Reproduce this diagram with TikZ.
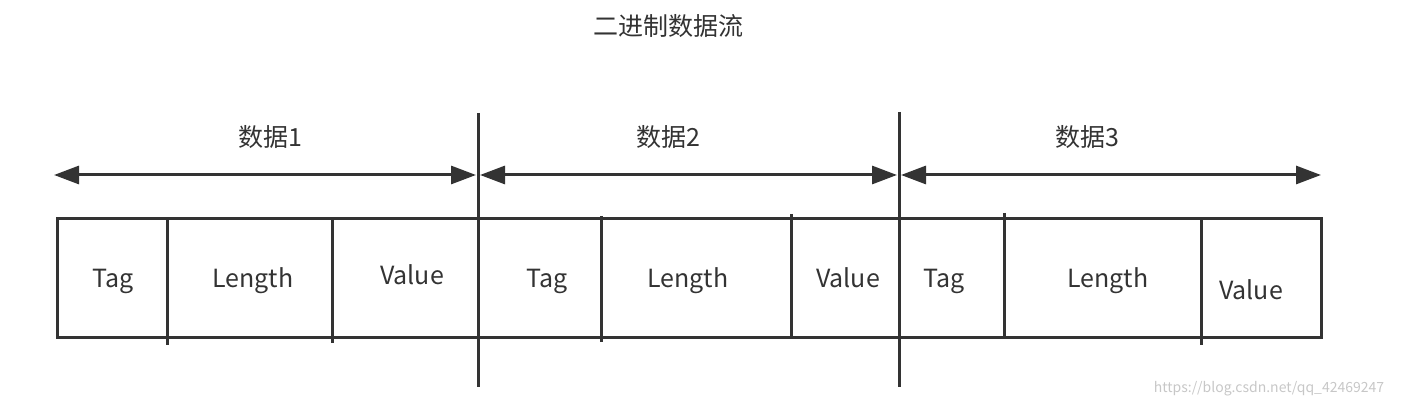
\documentclass[tikz,border=0pt]{standalone}
\usepackage{fontspec}
\setmainfont{Noto Sans CJK SC}
\usetikzlibrary{arrows.meta}
\definecolor{ink}{HTML}{333333}
\tikzset{
  cell/.style={text=ink,inner sep=0pt,font=\fontsize{12.5}{15}\selectfont},
  field/.style={cell,anchor=base},
  rule/.style={draw=ink,line width=1.5pt},
  span/.style={rule,{Triangle[length=12.5pt,width=9pt]}-{Triangle[length=12.5pt,width=9pt]}}
}

\begin{document}
\begin{tikzpicture}[x=0.5pt,y=-0.5pt]
	\useasboundingbox (0,0) rectangle (1414,410);
	\node[cell] (title) at (668,26) {二进制数据流};
	% outer box and the two long separators
	\coordinate (boxnw) at (57,219);
	\coordinate (boxse) at (1321,338);
	\draw[rule] (boxnw) rectangle (boxse);
	\coordinate (sep1t) at (478,113);
	\coordinate (sep1b) at (478,387);
	\coordinate (sep2t) at (899,112);
	\coordinate (sep2b) at (899,387);
	\draw[rule] (sep1t) -- (sep1b);
	\draw[rule] (sep2t) -- (sep2b);
	% field dividers
	\foreach \x/\ya/\yb in {167/219/345, 332/219/343, 601/216/342, 791/214/339, 1004/213/338, 1201/219/345}
		\draw[rule] (\x,\ya) -- (\x,\yb);
	% spans
	\coordinate (a1) at (54,175);
	\coordinate (b1) at (476,175);
	\coordinate (a2) at (480,175);
	\coordinate (b2) at (897,175);
	\coordinate (a3) at (901,175);
	\coordinate (b3) at (1321,175);
	\draw[span] (a1) -- (b1);
	\draw[span] (a2) -- (b2);
	\draw[span] (a3) -- (b3);
	\node[cell] (grp1) at (270,137) {数据1};
	\node[cell] (grp2) at (668,137) {数据2};
	\node[cell] (grp3) at (1087,137) {数据3};
	% field names
	\node[field] (tag1) at (113,288) {Tag};
	\node[field] (len1) at (253,288) {Length};
	\node[field] (val1) at (412,285) {Value};
	\node[field] (tag2) at (547,288) {Tag};
	\node[field] (len2) at (688,288) {Length};
	\node[field] (val2) at (848,288) {Value};
	\node[field] (tag3) at (944,288) {Tag};
	\node[field] (len3) at (1108,288) {Length};
	\node[field] (val3) at (1251,300) {Value};
	\node[text=black!22,inner sep=0pt,font=\fontsize{7}{9}\selectfont] (mark) at (1269,389) {https://blog.csdn.net/qq\_42469247};
\end{tikzpicture}
\end{document}
